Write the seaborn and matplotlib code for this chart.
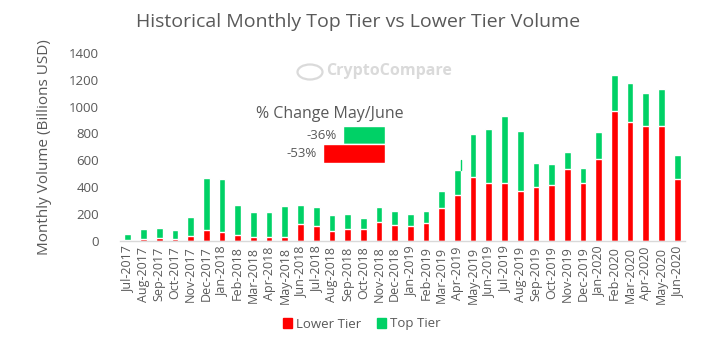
import matplotlib
matplotlib.use("Agg")
import matplotlib.pyplot as plt
from matplotlib.patches import Ellipse, Patch
import seaborn as sns
import pandas as pd

months = ["Jul-2017", "Aug-2017", "Sep-2017", "Oct-2017", "Nov-2017", "Dec-2017",
          "Jan-2018", "Feb-2018", "Mar-2018", "Apr-2018", "May-2018", "Jun-2018",
          "Jul-2018", "Aug-2018", "Sep-2018", "Oct-2018", "Nov-2018", "Dec-2018",
          "Jan-2019", "Feb-2019", "Mar-2019", "Apr-2019", "May-2019", "Jun-2019",
          "Jul-2019", "Aug-2019", "Sep-2019", "Oct-2019", "Nov-2019", "Dec-2019",
          "Jan-2020", "Feb-2020", "Mar-2020", "Apr-2020", "May-2020", "Jun-2020"]

# Monthly volume, billions USD
lower_tier = [10, 15, 25, 15, 40, 82, 69, 47, 32, 32, 32, 129,
              114, 77, 92, 92, 144, 120, 111, 134, 245, 342, 478, 431,
              431, 372, 401, 416, 535, 431, 609, 966, 884, 855, 855, 461]
top_tier = [42, 74, 72, 67, 138, 388, 392, 221, 184, 184, 228, 141,
            139, 119, 111, 79, 111, 103, 90, 89, 127, 186, 317, 401,
            498, 445, 179, 156, 126, 111, 201, 270, 290, 245, 274, 178]

change_labels = ["-36%", "-53%"]
change_values = [-36, -53]
change_tiers = ["Top Tier", "Lower Tier"]

RED = "#FF0000"
GREEN = "#00D166"
TEXT = "#595959"

sns.set_theme(style="white")
plt.rcParams["font.family"] = ["Open Sans", "DejaVu Sans"]

df = pd.DataFrame({
    "month": months,
    "lower": lower_tier,
    "total": [a + b for a, b in zip(lower_tier, top_tier)],
})

fig = plt.figure(figsize=(7.10, 3.49), dpi=100)
ax = fig.add_axes([120 / 710, 1 - 241 / 349, 565 / 710, (241 - 52.7) / 349])

sns.barplot(data=df, x="month", y="total", color=GREEN, width=0.43,
            saturation=1, ax=ax)
sns.barplot(data=df, x="month", y="lower", color=RED, width=0.43,
            saturation=1, ax=ax)

# thin stray segment above the Apr-2019 bar
apr_idx = months.index("Apr-2019")
ax.plot([apr_idx + 0.2, apr_idx + 0.2], [lower_tier[apr_idx] + top_tier[apr_idx], 600],
        color=GREEN, lw=1)

ax.set_ylim(0, 1400)
ax.set_xlim(-0.5, len(months) - 0.5)
ax.set_yticks(range(0, 1401, 200))
ax.set_xlabel("")
ax.set_ylabel("Monthly Volume (Billions USD)", color=TEXT, fontsize=11, labelpad=12)
ax.tick_params(axis="y", length=0, pad=15, labelsize=9.5, labelcolor=TEXT)
ax.tick_params(axis="x", length=0, pad=4, labelsize=9, labelcolor=TEXT, rotation=90)
for s in ["top", "right", "left"]:
    ax.spines[s].set_visible(False)
ax.spines["bottom"].set_color("#D9D9D9")
ax.spines["bottom"].set_linewidth(1)

fig.text(358 / 710, 1 - 22 / 349, "Historical Monthly Top Tier vs Lower Tier Volume",
         ha="center", va="center", fontsize=14, color=TEXT)

# watermark
fig.text(326 / 710, 1 - 71 / 349, "CryptoCompare", ha="left", va="center",
         fontsize=11.5, fontweight="bold", color="#DADADA")
fig.patches.append(Ellipse((310 / 710, 1 - 72 / 349), 25 / 710, 15 / 349,
                           transform=fig.transFigure, fill=False,
                           edgecolor="#DADADA", lw=1.6))

# % change inset
ins = fig.add_axes([303 / 710, 1 - 163 / 349, 82 / 710, 37 / 349])
cdf = pd.DataFrame({"tier": change_tiers, "value": change_values})
sns.barplot(data=cdf, x="value", y="tier", hue="tier",
            palette={"Top Tier": GREEN, "Lower Tier": RED}, width=1.0,
            saturation=1, legend=False, ax=ins)
ins.set_xlim(-70, 0)
ins.axis("off")
for i, (v, lab) in enumerate(zip(change_values, change_labels)):
    ins.text(v - 5, i, lab, ha="right", va="center", fontsize=9.5, color=TEXT)
fig.text(330 / 710, 1 - 114 / 349, "% Change May/June", ha="center", va="center",
         fontsize=11.5, color=TEXT)

# legend
handles = [Patch(color=RED, label="Lower Tier"), Patch(color=GREEN, label="Top Tier")]
fig.legend(handles=handles, loc="center", bbox_to_anchor=(362 / 710, 1 - 324 / 349),
           ncol=2, frameon=False, fontsize=9.5, handlelength=0.7, handleheight=0.7,
           handletextpad=0.3, columnspacing=1.2, labelcolor=TEXT)

fig.savefig("out.png", dpi=100)
